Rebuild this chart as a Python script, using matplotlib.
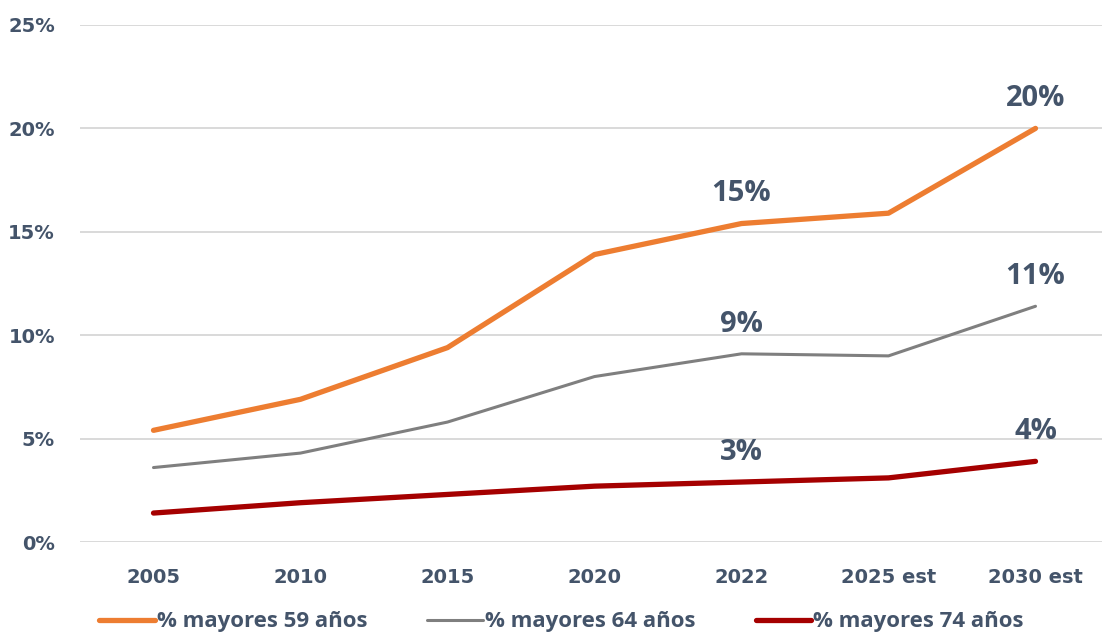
import numpy as np
import matplotlib.pyplot as plt
from matplotlib.ticker import FuncFormatter

# Values (percent)
years = ["2005", "2010", "2015", "2020", "2022", "2025 est", "2030 est"]
may59 = [5.4, 6.9, 9.4, 13.9, 15.4, 15.9, 20.0]
may64 = [3.6, 4.3, 5.8, 8.0, 9.1, 9.0, 11.4]
may74 = [1.4, 1.9, 2.3, 2.7, 2.9, 3.1, 3.9]
labels = ["% mayores 59 años", "% mayores 64 años", "% mayores 74 años"]
yticks = [0, 5, 10, 15, 20, 25]

text_col = "#44546A"
colours = ["#ED7D31", "#7F7F7F", "#A50000"]

fig = plt.figure(figsize=(11.02, 6.34), dpi=100)
ax = fig.add_axes([80 / 1102, 92 / 634, 1029 / 1102, 517 / 634])

x = np.arange(len(years))
l1, = ax.plot(x, may59, color=colours[0], linewidth=3.8, solid_capstyle="round")
l2, = ax.plot(x, may64, color=colours[1], linewidth=2.2, solid_capstyle="round")
l3, = ax.plot(x, may74, color=colours[2], linewidth=3.8, solid_capstyle="round")

ax.set_xlim(-0.5, len(years) - 0.5)
ax.set_ylim(0, 25)
ax.set_yticks(yticks)
ax.yaxis.set_major_formatter(FuncFormatter(lambda v, p: f"{v:.0f}%"))
ax.set_xticks(x)
ax.set_xticklabels(years)
ax.grid(axis="y", color="#D9D9D9", linewidth=1.4)
ax.set_axisbelow(True)
for s in ax.spines.values():
    s.set_visible(False)
ax.tick_params(length=0, colors=text_col, labelsize=14)
ax.tick_params(axis="y", pad=18)
ax.tick_params(axis="x", pad=19)
for t in ax.get_xticklabels() + ax.get_yticklabels():
    t.set_fontweight("bold")
    t.set_family("DejaVu Sans")

# data labels at 2022 and 2030
fd = {"family": ["Open Sans", "DejaVu Sans"], "fontsize": 21, "fontweight": "bold", "color": text_col}
for series in (may59, may64, may74):
    for i in (4, 6):
        ax.annotate(f"{series[i]:.0f}%", (x[i], series[i]), xytext=(0, 11),
                    textcoords="offset points", ha="center", va="bottom", **fd)

fig.legend([l1, l2, l3], labels, loc="center left", bbox_to_anchor=(79 / 1102, 12 / 634),
           ncol=3, frameon=False, handlelength=2.5, handletextpad=0.1, columnspacing=2.7,
           prop={"family": ["Open Sans", "DejaVu Sans"], "size": 16, "weight": "bold"},
           labelcolor=text_col)

fig.savefig("out.png", dpi=100)
